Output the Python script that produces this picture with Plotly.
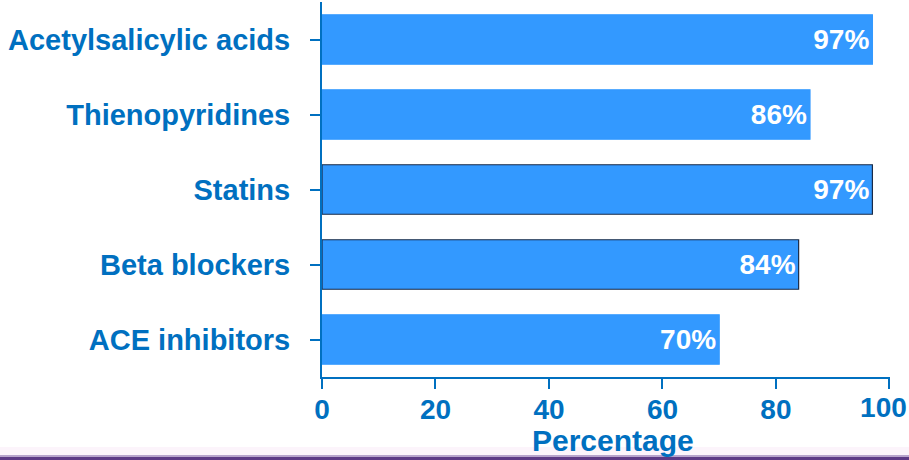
import plotly.graph_objects as go

categories = ["ACE inhibitors", "Beta blockers", "Statins", "Thienopyridines", "Acetylsalicylic acids"]
values = [70, 84, 97, 86, 97]
labels = ["70%", "84%", "97%", "86%", "97%"]
outline_colors = ["#3399FF", "#1A2B47", "#1A2B47", "#3399FF", "#3399FF"]
x_ticks = [0, 20, 40, 60, 80, 100]
x_tick_text = ["0", "20", "40", "60", "80", "100"]
x_title = "Percentage"

BLUE_TXT = "#0070C0"
FONT = "Liberation Sans"
X_RANGE = [0, 100.1]

fig = go.Figure()
fig.add_trace(go.Bar(
    y=categories, x=values, orientation="h",
    marker=dict(color="#3399FF", line=dict(color=outline_colors, width=1.2)),
    text=labels, textposition="inside", insidetextanchor="end",
    textfont=dict(color="white", size=28, family=FONT, weight="bold"),
    cliponaxis=False, width=0.66,
))
# invisible helper so the overlay axis (last tick label) is rendered
fig.add_trace(go.Scatter(
    x=[x_ticks[-1]], y=[categories[0]], xaxis="x2", mode="markers",
    marker=dict(opacity=0), hoverinfo="skip", showlegend=False,
))

fig.update_layout(
    width=909, height=460,
    margin=dict(l=322, r=19, t=2, b=83, autoexpand=False),
    paper_bgcolor="white", plot_bgcolor="white",
    showlegend=False,
    font=dict(family=FONT, size=28, color=BLUE_TXT, weight="bold"),
    uniformtext=dict(minsize=20, mode="show"),
)
# main axis: all tick marks, labels except the last one
fig.update_xaxes(
    range=X_RANGE, tickvals=x_ticks, ticktext=x_tick_text[:-1] + [""],
    showgrid=False, zeroline=False, automargin=False,
    showline=True, linecolor=BLUE_TXT, linewidth=2,
    ticks="outside", ticklen=10, tickwidth=2, tickcolor=BLUE_TXT,
    tickfont=dict(family=FONT, size=28, color=BLUE_TXT, weight="bold"),
    ticklabeloverflow="allow", ticklabelstandoff=-4,
)
# overlay axis carrying only the last label, nudged left/down as in the original
fig.update_layout(xaxis2=dict(
    overlaying="x", anchor="y", side="bottom", range=X_RANGE,
    tickvals=x_ticks[-1:], ticktext=x_tick_text[-1:],
    showgrid=False, zeroline=False, showline=False, ticks="", automargin=False,
    tickfont=dict(family=FONT, size=28, color=BLUE_TXT, weight="bold"),
    ticklabeloverflow="allow", ticklabelshift=-6, ticklabelstandoff=11,
))
fig.update_yaxes(
    range=[-0.5, 4.5], showgrid=False, zeroline=False, automargin=False,
    showline=True, linecolor=BLUE_TXT, linewidth=2,
    ticks="outside", ticklen=10, tickwidth=2, tickcolor=BLUE_TXT,
    tickfont=dict(family=FONT, size=29, color=BLUE_TXT, weight="bold"),
    ticklabelstandoff=14,
)
fig.update_layout(bargap=0.34)

fig.add_annotation(text=x_title, xref="paper", yref="paper", x=0.512, y=-0.168,
                   xanchor="center", yanchor="middle", showarrow=False,
                   font=dict(family=FONT, size=30, color=BLUE_TXT, weight="bold"))

# bottom decorative strip
fig.add_shape(type="rect", xref="paper", yref="paper", x0=-1, x1=2,
              y0=-83/375, y1=-70/375, fillcolor="#FCF4FB", line_width=0, layer="below")
fig.add_shape(type="rect", xref="paper", yref="paper", x0=-1, x1=2,
              y0=-83/375, y1=-78/375, fillcolor="#B8A4CC", line_width=0)
fig.add_shape(type="rect", xref="paper", yref="paper", x0=-1, x1=2,
              y0=-83/375, y1=-80/375, fillcolor="#5E3A86", line_width=0)

fig.write_html("out.html")
